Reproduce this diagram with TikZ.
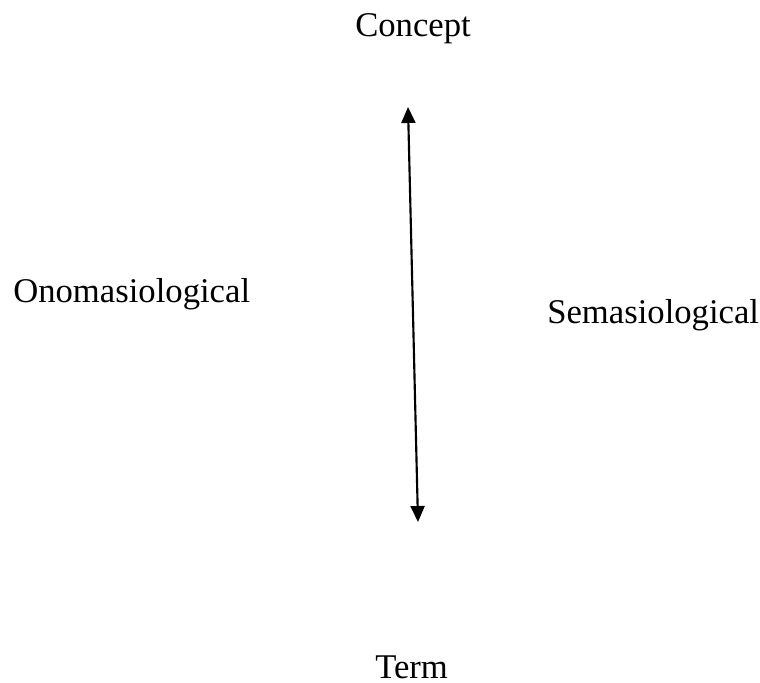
\documentclass[tikz,border=0pt]{standalone}
\usepackage{fontspec}
\setmainfont{Liberation Serif}
\usetikzlibrary{arrows.meta}
\begin{document}
\begin{tikzpicture}[x=0.75pt,y=-0.75pt,
  lbl/.style={inner sep=0pt,anchor=base west,font=\fontsize{26}{30}\selectfont},
  dblarrow/.style={line width=1.6pt,{Triangle[length=12pt,width=10.5pt]}-{Triangle[length=12pt,width=10.5pt]}}]
\useasboundingbox (0,0) rectangle (760,682);
\node[lbl] (concept) at (355,36) {Concept};
\node[lbl] (onom) at (13,302) {Onomasiological};
\node[lbl] (sema) at (547,323) {Semasiological};
\node[lbl] (term) at (375,678) {Term};
\coordinate (top) at (408,107);
\coordinate (bot) at (418,522);
\draw[dblarrow] (top) -- (bot);
\end{tikzpicture}
\end{document}
